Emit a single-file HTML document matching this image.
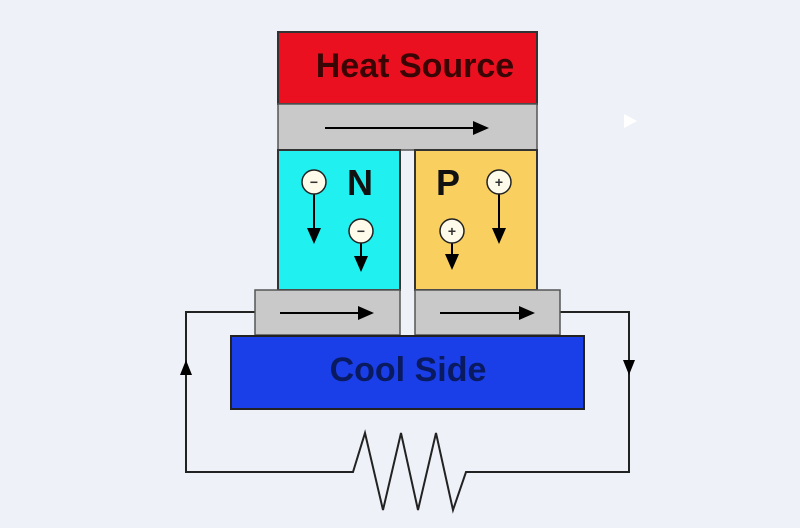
<!DOCTYPE html>
<html><head><style>body{margin:0;background:#eef1f7}</style></head><body>
<svg width="800" height="528" xmlns="http://www.w3.org/2000/svg" style="display:block">
<defs><marker id="a" markerWidth="16" markerHeight="14" refX="14" refY="7" orient="auto" markerUnits="userSpaceOnUse"><path d="M0,0 L16,7 L0,14z" fill="#000"/></marker></defs>
<rect width="800" height="528" fill="#eef1f7"/>
<path d="M624,114 L637,121 L624,128z" fill="#fff"/>
<g stroke="#222" stroke-width="2" fill="none">
<polyline points="255,312 186,312 186,472 353,472 365,433 383,510 401,433 418,510 436,433 453,510 466,472 629,472 629,312 560,312"/>
</g>
<path d="M186,360 L180,375 L192,375z" fill="#000"/>
<path d="M629,375 L623,360 L635,360z" fill="#000"/>
<rect x="278" y="32" width="259" height="72" fill="#ea1020" stroke="#333" stroke-width="2"/>
<rect x="278" y="104" width="259" height="46" fill="#c9c9c9" stroke="#555" stroke-width="1.5"/>
<rect x="278" y="150" width="122" height="140" fill="#20f0f0" stroke="#333" stroke-width="2"/>
<rect x="415" y="150" width="122" height="140" fill="#f9d060" stroke="#333" stroke-width="2"/>
<rect x="255" y="290" width="145" height="45" fill="#c9c9c9" stroke="#555" stroke-width="1.5"/>
<rect x="415" y="290" width="145" height="45" fill="#c9c9c9" stroke="#555" stroke-width="1.5"/>
<rect x="231" y="336" width="353" height="73" fill="#1a3ee8" stroke="#222" stroke-width="2"/>
<g stroke="#000" stroke-width="2" marker-end="url(#a)">
<line x1="325" y1="128" x2="487" y2="128"/>
<line x1="280" y1="313" x2="372" y2="313"/>
<line x1="440" y1="313" x2="533" y2="313"/>
<line x1="314" y1="194" x2="314" y2="242"/>
<line x1="361" y1="243" x2="361" y2="270"/>
<line x1="452" y1="243" x2="452" y2="268"/>
<line x1="499" y1="194" x2="499" y2="242"/>
</g>
<g fill="#fffbea" stroke="#222" stroke-width="1.5">
<circle cx="314" cy="182" r="12"/><circle cx="361" cy="231" r="12"/>
<circle cx="452" cy="231" r="12"/><circle cx="499" cy="182" r="12"/>
</g>
<g fill="#333" font-family="Liberation Sans,sans-serif" font-weight="bold" font-size="14" text-anchor="middle">
<text x="314" y="187">−</text><text x="361" y="236">−</text>
<text x="452" y="236">+</text><text x="499" y="187">+</text>
</g>
<g font-family="Liberation Sans,sans-serif" font-weight="bold" text-anchor="middle">
<text x="360" y="195" font-size="36" fill="#111">N</text>
<text x="448" y="195" font-size="36" fill="#111">P</text>
<text x="415" y="77" font-size="34" fill="#3a0505">Heat Source</text>
<text x="408" y="381" font-size="34" fill="#0a1a60">Cool Side</text>
</g>
</svg>
</body></html>
